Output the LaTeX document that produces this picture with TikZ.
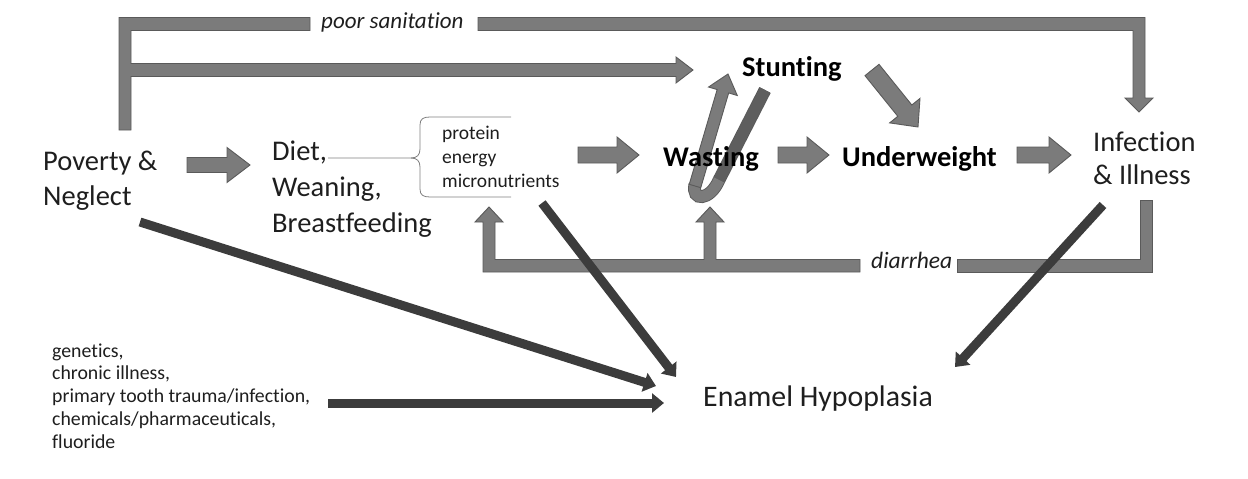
\documentclass[tikz,border=0pt]{standalone}
\usepackage{fontspec}
\setmainfont{Carlito}[Ligatures={NoCommon}]
\usetikzlibrary{calc,arrows.meta}
\definecolor{gfill}{HTML}{7B7B7B}
\definecolor{gline}{HTML}{5A5A5A}
\definecolor{gdark}{HTML}{3C3C3C}
\definecolor{gloop}{HTML}{5E5E5E}
\definecolor{bracec}{HTML}{808080}
\definecolor{txt}{HTML}{1E1E1E}
\newcommand{\blockarrow}[5]{%
  \path (#1) coordinate (bas) (#2) coordinate (bae);
  \path ($(bae)!#5!(bas)$) coordinate (bah);
  \draw[gshape] ($(bas)!#3!90:(bae)$) -- ($(bah)!#3!90:(bae)$) -- ($(bah)!#4!90:(bae)$) -- (bae) -- ($(bah)!#4!-90:(bae)$) -- ($(bah)!#3!-90:(bae)$) -- ($(bas)!#3!-90:(bae)$) -- cycle;}
\begin{document}
\begin{tikzpicture}[x=1pt,y=-1pt,
  gshape/.style={draw=gline, fill=gfill, line width=0.9pt, line join=miter},
  gband/.style={draw=gline, line width=0.9pt, double distance=11pt},
  darrow/.style={draw=gdark, line width=9pt, -{Triangle[length=12pt,width=19pt]}},
  brace/.style={draw=bracec, line width=0.8pt},
  lbl/.style={inner sep=0pt, text=txt, align=left},
  blbl/.style={inner sep=0pt, text=black, font=\bfseries\fontsize{28.5}{35}\selectfont},
  slbl/.style={inner sep=0pt, text=txt, align=left},
  ilbl/.style={inner sep=0pt, text=txt},
]
\useasboundingbox (0,0) rectangle (1248,479);
% coordinates of connector ends
\coordinate (a1s) at (187,165); \coordinate (a1e) at (250,165);
\coordinate (a2s) at (578,155); \coordinate (a2e) at (639,155);
\coordinate (a3s) at (778,155); \coordinate (a3e) at (829,155);
\coordinate (a4s) at (1017,155); \coordinate (a4e) at (1071,155);
\coordinate (a5s) at (872,70); \coordinate (a5e) at (918,127);
\coordinate (l1s) at (695,186); \coordinate (l1e) at (728,74);
\coordinate (d1s) at (140,222); \coordinate (d1e) at (656,386);
\coordinate (d2s) at (542,203); \coordinate (d2e) at (676,377);
\coordinate (d3s) at (328,403); \coordinate (d3e) at (664,403);
\coordinate (d4s) at (1103,205); \coordinate (d4e) at (955,367);
% poor sanitation bars
\draw[gshape] (119,130) -- (119,17.5) -- (310,17.5) -- (310,30.5) -- (131,30.5) -- (131,63.5) -- (676,63.5) -- (676,57) -- (693,70) -- (676,83) -- (676,76.5) -- (131,76.5) -- (131,130) -- cycle;
\draw[gshape] (478,17.5) -- (1145,17.5) -- (1145,98) -- (1153,98) -- (1139,112) -- (1125,98) -- (1133,98) -- (1133,30.5) -- (478,30.5) -- cycle;
% diarrhea bars
\draw[gshape] (483,272) -- (483,222) -- (475,222) -- (489,207) -- (503,222) -- (495,222) -- (495,259.5) -- (704,259.5) -- (704,222) -- (696,222) -- (710,207) -- (724,222) -- (716,222) -- (716,259.5) -- (860,259.5) -- (860,272) -- cycle;
\draw[gshape] (957,259.5) -- (1140,259.5) -- (1140,200) -- (1152,200) -- (1152,272) -- (957,272) -- cycle;
% block arrows
\blockarrow{a1s}{a1e}{7.5pt}{17.5pt}{23pt}
\blockarrow{a2s}{a2e}{8pt}{18pt}{22pt}
\blockarrow{a3s}{a3e}{8pt}{18pt}{22pt}
\blockarrow{a4s}{a4e}{8pt}{18pt}{22pt}
\blockarrow{a5s}{a5e}{9pt}{19.5pt}{21pt}
% loop between wasting and stunting
\draw[gband, double=gloop] (765,90) -- (719,180);
\draw[gband, double=gfill] (719,180) .. controls (710,201) and (691,202) .. (695,184);
\blockarrow{l1s}{l1e}{6pt}{15pt}{18pt}
% brace
\draw[brace] (328,158) -- (411,158) .. controls (417,158) and (420,155) .. (420,149) -- (420,125) .. controls (420,119) and (423,117) .. (430,117) -- (511,117);
\draw[brace] (411,158) .. controls (417,158) and (420,161) .. (420,167) -- (420,189) .. controls (420,195) and (423,197) .. (430,197) -- (511,197);
% dark arrows to enamel hypoplasia
\draw[darrow] (d1s) -- (d1e);
\draw[darrow] (d2s) -- (d2e);
\draw[darrow] (d3s) -- (d3e);
\draw[darrow] (d4s) -- (d4e);
% labels
\node[lbl, font=\fontsize{28.5}{35}\selectfont, anchor=north west] (pov) at (43,150) {\rule{0pt}{20pt}Poverty \&\\Neglect};
\node[lbl, font=\fontsize{28.5}{36}\selectfont, anchor=north west] (diet) at (272,140) {\rule{0pt}{20pt}Diet,\\Weaning,\\Breastfeeding};
\node[slbl, font=\fontsize{19.5}{24}\selectfont, anchor=north west] (nut) at (442,119) {\rule{0pt}{20pt}protein\\energy\\micronutrients};
\node[blbl, anchor=base west] (stunt) at (742,76) {Stunting};
\node[blbl, anchor=base west] (wast) at (663,166) {Wasting};
\node[blbl, anchor=base west] (under) at (842,166) {Underweight};
\node[lbl, font=\fontsize{28.5}{33}\selectfont, anchor=north west] (inf) at (1093,131) {\rule{0pt}{20pt}Infection\\\& Illness};
\node[lbl, font=\fontsize{29.8}{35}\selectfont, anchor=base west] (enam) at (703,406) {Enamel Hypoplasia};
\node[slbl, font=\fontsize{19.8}{22.75}\selectfont, anchor=north west] (gen) at (52,337) {\rule{0pt}{20pt}genetics,\\chronic illness,\\primary tooth trauma/infection,\\chemicals/pharmaceuticals,\\fluoride};
\node[ilbl, font=\itshape\fontsize{23}{26}\selectfont, anchor=base west] (san) at (321,28) {poor sanitation};
\node[ilbl, font=\itshape\fontsize{23.5}{26}\selectfont, anchor=base west] (dia) at (871,268) {diarrhea};
\end{tikzpicture}
\end{document}
